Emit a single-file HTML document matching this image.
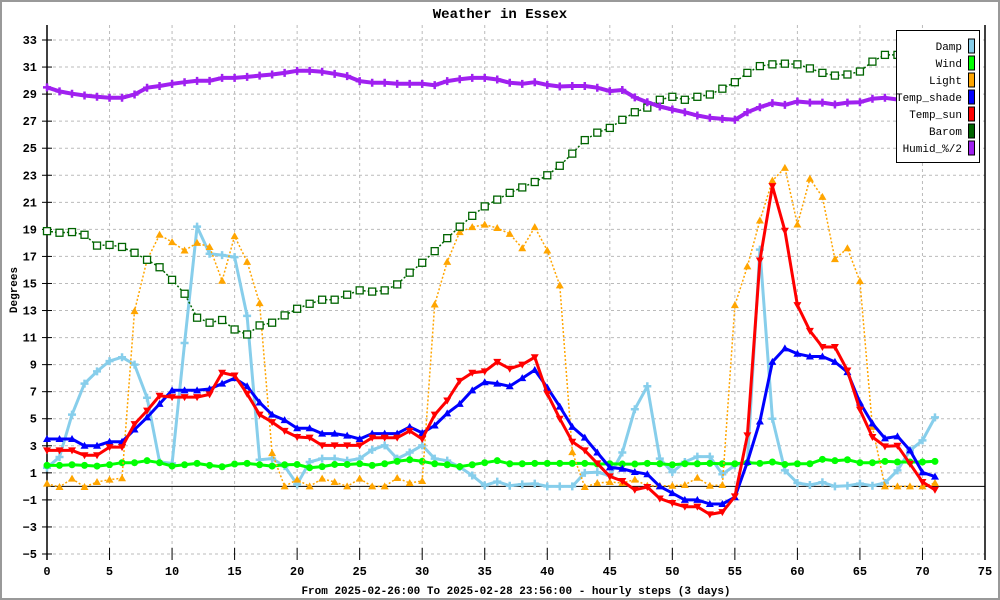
<!DOCTYPE html>
<html><head><meta charset="utf-8"><style>
html,body{margin:0;padding:0;background:#fff}
svg{display:block}
text{font-family:"Liberation Mono","DejaVu Sans Mono",monospace}
</style></head><body>
<svg id="chart" width="1000" height="600" viewBox="0 0 1000 600" xmlns="http://www.w3.org/2000/svg">
<rect x="1" y="1" width="998" height="598" fill="#fff" stroke="#999" stroke-width="2"/>
<text x="500" y="18" text-anchor="middle" font-size="14" font-weight="bold">Weather in Essex</text>
<text x="17" y="290" text-anchor="middle" font-size="11" font-weight="bold" transform="rotate(-90 17 290)">Degrees</text>
<text x="516" y="594" text-anchor="middle" font-size="11" font-weight="bold">From 2025-02-26:00 To 2025-02-28 23:56:00 - hourly steps (3 days)</text>
<g id="grid"></g>
<g id="axes"></g>
<g id="series"></g>
<g id="legend"></g>
</svg>
<script>
const xTicks = [0,5,10,15,20,25,30,35,40,45,50,55,60,65,70,75];
const yTicks = [-5,-3,-1,1,3,5,7,9,11,13,15,17,19,21,23,25,27,29,31,33];
const seriesNames = ["Damp","Wind","Light","Temp_shade","Temp_sun","Barom","Humid_%/2"];
const damp = [1.38,2.17,5.3,7.6,8.5,9.26,9.55,9.0,6.55,1.8,1.7,10.6,19.2,17.2,17.1,16.95,12.6,1.97,2.05,1.5,0.15,1.8,2.05,2.05,1.9,2.05,2.7,3.03,2.05,2.5,3.03,2.05,1.9,1.43,0.8,0.07,0.35,0.05,0.15,0.2,0,0,0,1.0,1.05,0.8,2.5,5.7,7.4,2.05,1.05,1.8,2.2,2.2,0.9,1.55,1.8,17.5,5.0,1.18,0.25,0.1,0.3,0,0.05,0.2,0.05,0.25,1.18,2.66,3.4,5.1];
const wind = [1.55,1.55,1.6,1.55,1.5,1.6,1.75,1.75,1.9,1.75,1.5,1.6,1.7,1.55,1.45,1.65,1.7,1.6,1.5,1.6,1.62,1.38,1.46,1.62,1.62,1.67,1.55,1.67,1.85,1.97,1.85,1.67,1.6,1.46,1.6,1.75,1.9,1.67,1.67,1.7,1.7,1.7,1.7,1.7,1.65,1.67,1.65,1.65,1.7,1.67,1.6,1.67,1.67,1.7,1.67,1.67,1.75,1.7,1.8,1.62,1.67,1.67,2.0,1.9,1.97,1.75,1.75,1.85,1.8,1.8,1.8,1.85];
const light = [0.2,-0.05,0.57,-0.05,0.32,0.5,0.6,12.96,16.75,18.6,18.06,17.44,18.0,17.7,15.2,18.5,16.6,13.55,2.46,0,0.5,0,0.57,0.32,0,0.57,0,0,0.62,0.25,0.4,13.45,16.6,18.8,19.17,19.35,19.1,18.67,17.6,19.17,17.44,14.86,2.53,-0.05,0.25,0.32,0.25,0.5,0.05,0.05,0.05,0.1,0.64,0.05,0.1,13.4,16.26,19.66,22.6,23.55,19.36,22.74,21.4,16.8,17.6,15.17,4.4,0,0,0,0,0.25];
const tempShade = [3.5,3.5,3.5,3.0,3.0,3.3,3.3,4.2,5.1,6.1,7.1,7.1,7.1,7.2,7.6,8.0,7.4,6.2,5.3,4.9,4.3,4.3,3.9,3.9,3.75,3.5,3.9,3.9,3.9,4.4,3.95,4.5,5.4,6.1,7.1,7.7,7.6,7.4,8.0,8.6,7.3,5.9,4.4,3.6,2.5,1.4,1.3,1.06,0.9,0,-0.5,-1.0,-1.0,-1.3,-1.3,-0.8,1.8,4.8,9.2,10.2,9.8,9.6,9.6,9.2,8.45,6.2,4.65,3.55,3.7,2.66,1.03,0.72];
const tempSun = [2.66,2.66,2.66,2.3,2.3,2.9,2.9,4.6,5.6,6.7,6.6,6.6,6.6,6.8,8.4,8.2,6.85,5.3,4.75,4.1,3.65,3.6,3.03,3.03,3.03,3.03,3.6,3.6,3.6,4.1,3.5,5.3,6.35,7.8,8.4,8.5,9.2,8.7,9.0,9.55,6.85,5.0,3.3,2.66,1.7,0.74,0.4,-0.25,-0.05,-0.9,-1.23,-1.5,-1.5,-2.07,-1.9,-0.74,3.77,16.7,22.2,18.9,13.4,11.5,10.3,10.3,8.57,5.67,3.65,2.96,3.0,1.67,0.32,-0.25];
const barom = [18.87,18.75,18.8,18.6,17.8,17.85,17.7,17.27,16.75,16.2,15.27,14.24,12.47,12.1,12.3,11.6,11.23,11.9,12.1,12.64,13.13,13.5,13.8,13.8,14.17,14.49,14.4,14.49,14.93,15.8,16.53,17.39,18.35,19.2,20.0,20.7,21.2,21.7,22.1,22.5,23.0,23.7,24.6,25.6,26.15,26.5,27.1,27.66,28.0,28.58,28.8,28.58,28.8,28.97,29.4,29.88,30.57,31.07,31.2,31.25,31.2,30.9,30.57,30.37,30.45,30.67,31.4,31.9,31.9,32.0,32.0,32.0];
const humid = [29.5,29.2,29.03,28.9,28.8,28.73,28.73,28.97,29.47,29.6,29.76,29.88,29.98,29.98,30.2,30.2,30.27,30.37,30.45,30.57,30.72,30.72,30.65,30.5,30.33,29.96,29.84,29.84,29.76,29.76,29.76,29.66,29.96,30.1,30.2,30.2,30.08,29.84,29.76,29.88,29.68,29.56,29.6,29.6,29.47,29.22,29.3,28.76,28.4,28.08,27.86,27.66,27.42,27.25,27.17,27.1,27.66,28.03,28.33,28.2,28.45,28.37,28.37,28.23,28.37,28.4,28.66,28.73,28.6,28.6,28.6,28.6];

const NS = "http://www.w3.org/2000/svg";
const X0 = 47, X1 = 985, Y0 = 554, Y1 = 40;
const xMin = 0, xMax = 75, yMin = -5, yMax = 33;
function xs(v){ return X0 + (v - xMin) / (xMax - xMin) * (X1 - X0); }
function ys(v){ return Y0 - (v - yMin) / (yMax - yMin) * (Y0 - Y1); }
function mk(tag, attrs, parent){
  const e = document.createElementNS(NS, tag);
  for (const k in attrs) e.setAttribute(k, attrs[k]);
  parent.appendChild(e);
  return e;
}
const grid = document.getElementById('grid');
const axes = document.getElementById('axes');
const series = document.getElementById('series');
const legend = document.getElementById('legend');

yTicks.forEach(t => {
  const y = ys(t);
  const g = mk('line', {x1: X0, x2: X1, y1: y, y2: y, stroke: '#bbb', 'stroke-dasharray': '3,3'}, grid);
  
  
  const tk = mk('line', {x1: X0 - 5, x2: X0 + 5, y1: y, y2: y, stroke: '#000'}, axes);
  
  
  const lb = mk('text', {x: 37, y: y + 4, 'text-anchor': 'end', 'font-size': '12', 'font-weight': 'bold'}, axes);
  lb.textContent = String(t).replace('-', '\u2212');
  
  
});
xTicks.forEach(t => {
  const x = xs(t);
  if (t > 0 && t < 75) {
    const g = mk('line', {x1: x, x2: x, y1: 25, y2: Y0, stroke: '#bbb', 'stroke-dasharray': '3,3'}, grid);
    
    
  }
  const tk = mk('line', {x1: x, x2: x, y1: Y0 - 6, y2: Y0 + 6, stroke: '#000'}, axes);
  
  
  const lb = mk('text', {x: x, y: 575, 'text-anchor': 'middle', 'font-size': '12', 'font-weight': 'bold'}, axes);
  lb.textContent = t;
  
  
});
const ax1 = mk('line', {x1: X0, x2: X0, y1: 25, y2: 560, stroke: '#000', 'stroke-width': 1.5}, axes);


const ax2 = mk('line', {x1: X1, x2: X1, y1: 25, y2: 560, stroke: '#000', 'stroke-width': 1.5}, axes);


const zl = mk('line', {x1: X0, x2: X1, y1: ys(0), y2: ys(0), stroke: '#000', 'stroke-width': 1}, axes);



function marker(kind, x, y, color, parent){
  let e;
  if (kind === 'tri') e = mk('polygon', {points: `${x},${y-4} ${x-4},${y+3} ${x+4},${y+3}`, fill: color}, parent);
  else if (kind === 'tridown') e = mk('polygon', {points: `${x},${y+4} ${x-4},${y-3} ${x+4},${y-3}`, fill: color}, parent);
  else if (kind === 'sq') e = mk('rect', {x: x-3.5, y: y-3.5, width: 7, height: 7, fill: '#fff', stroke: color, 'stroke-width': 1.3}, parent);
  else if (kind === 'dot') e = mk('circle', {cx: x, cy: y, r: 3.5, fill: color}, parent);
  else if (kind === 'plus') e = mk('path', {d: `M${x-4},${y}H${x+4}M${x},${y-4}V${y+4}`, stroke: color, 'stroke-width': 2.5}, parent);
  return e;
}
function drawSeries(vals, color, width, dash, kind, name){
  const g = mk('g', {}, series);
  
  
  const pts = vals.map((v, i) => xs(i).toFixed(1) + ',' + ys(v).toFixed(1)).join(' ');
  const attrs = {points: pts, fill: 'none', stroke: color, 'stroke-width': width, 'stroke-linejoin': 'round'};
  if (dash) attrs['stroke-dasharray'] = dash;
  const pl = mk('polyline', attrs, g);
  
  
  vals.forEach((v, i) => {
    const m = marker(kind, xs(i), ys(v), kind === 'sq' ? color : color, g);
    
    
  });
}
drawSeries(damp, '#87ceeb', 3, null, 'plus', 'damp');
drawSeries(wind, '#00ff00', 3, null, 'dot', 'wind');
drawSeries(light, '#ffa500', 1.5, '2,2', 'tri', 'light');
drawSeries(tempShade, '#0000ff', 3, null, 'tri', 'temp-shade');
drawSeries(tempSun, '#ff0000', 3, null, 'tridown', 'temp-sun');
drawSeries(barom, '#006400', 1.5, '2,2', 'sq', 'barom');
drawSeries(humid, '#a020f0', 4, null, 'plus', 'humid');

const colors = ['#87ceeb','#00ff00','#ffa500','#0000ff','#ff0000','#006400','#a020f0'];
const lb = mk('rect', {x: 896.5, y: 30.5, width: 83, height: 132, fill: '#fff', stroke: '#000'}, legend);


seriesNames.forEach((n, i) => {
  const y = 46 + i * 17;
  const t = mk('text', {x: 962, y: y + 4, 'text-anchor': 'end', 'font-size': '11'}, legend);
  t.textContent = n;
  
  
  const s = mk('rect', {x: 968.5, y: y - 7, width: 6, height: 14, fill: colors[i], stroke: '#000'}, legend);
  
  
});
</script>
</body></html>
